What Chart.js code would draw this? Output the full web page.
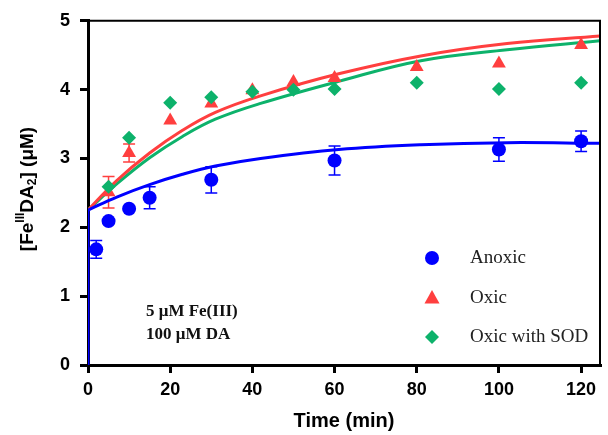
<!DOCTYPE html>
<html>
<head>
<meta charset="utf-8">
<script src="https://cdn.jsdelivr.net/npm/chart.js@4"></script>
<style>
  body { margin: 0; background: #fff; }
  canvas { display: block; }
</style>
</head>
<body>
<canvas id="chart" width="608" height="435"></canvas>
<script>
// measured points
var timeAnoxic = [2, 5, 10, 15, 30, 60, 100, 120];
var anoxic = [1.68, 2.09, 2.27, 2.43, 2.69, 2.97, 3.13, 3.25];
var anoxicErr = [0.13, 0, 0, 0.16, 0.19, 0.21, 0.17, 0.15];

var timeOxic = [5, 10, 20, 30, 40, 50, 60, 80, 100, 120];
var oxic = [2.51, 3.08, 3.55, 3.80, 3.99, 4.11, 4.17, 4.33, 4.38, 4.65];
var oxicErr = [0.23, 0.13, 0, 0, 0, 0, 0, 0, 0, 0];
var oxicSod = [2.59, 3.30, 3.81, 3.89, 3.97, 4.00, 4.01, 4.10, 4.01, 4.10];

// fitted curves
var jumpTime = [0, 0];
var jumpValue = [0, 2.25];
var fitTime = [0, 7, 15, 23, 31, 42, 61, 81, 102, 124.6];
var fitAnoxic = [2.25, 2.44, 2.62, 2.77, 2.89, 3.00, 3.13, 3.20, 3.23, 3.22];
var fitOxic = [2.25, 2.68, 3.08, 3.41, 3.67, 3.91, 4.23, 4.49, 4.67, 4.78];
var fitSod = [2.25, 2.63, 3.01, 3.32, 3.57, 3.80, 4.12, 4.42, 4.58, 4.71];

var xTicks = [0, 20, 40, 60, 80, 100, 120];
var yTicks = [0, 1, 2, 3, 4, 5];

var labels = ['Anoxic', 'Oxic', 'Oxic with SOD'];
var BLUE = '#0000ff';
var RED = '#ff3f3f';
var GREEN = '#0db26b';

function pts(xs, ys) {
    return xs.map(function (x, i) { return { x: x, y: ys[i] }; });
}

function drawMarker(ctx, shape, x, y, color) {
    ctx.save();
    ctx.fillStyle = color;
    ctx.beginPath();
    if (shape === 'circle') {
        ctx.arc(x, y, 7, 0, Math.PI * 2);
    } else if (shape === 'triangle') {
        ctx.moveTo(x, y - 8);
        ctx.lineTo(x + 7.5, y + 5.5);
        ctx.lineTo(x - 7.5, y + 5.5);
        ctx.closePath();
    } else {
        ctx.moveTo(x, y - 7);
        ctx.lineTo(x + 7, y);
        ctx.lineTo(x, y + 7);
        ctx.lineTo(x - 7, y);
        ctx.closePath();
    }
    ctx.fill();
    ctx.restore();
}

var extras = {
    id: 'extras',
    beforeDatasetsDraw: function (chart) {
        var ctx = chart.ctx, xs = chart.scales.x, ys = chart.scales.y;
        function bars(times, vals, errs, color) {
            ctx.save();
            ctx.strokeStyle = color;
            ctx.lineWidth = 1.5;
            times.forEach(function (t, i) {
                if (!errs[i]) return;
                var px = xs.getPixelForValue(t);
                var top = ys.getPixelForValue(vals[i] + errs[i]);
                var bot = ys.getPixelForValue(vals[i] - errs[i]);
                ctx.beginPath();
                ctx.moveTo(px, top); ctx.lineTo(px, bot);
                ctx.moveTo(px - 6, top); ctx.lineTo(px + 6, top);
                ctx.moveTo(px - 6, bot); ctx.lineTo(px + 6, bot);
                ctx.stroke();
            });
            ctx.restore();
        }
        bars(timeOxic, oxic, oxicErr, RED);
        bars(timeAnoxic, anoxic, anoxicErr, BLUE);
    },
    afterDraw: function (chart) {
        var ctx = chart.ctx, a = chart.chartArea;
        // frame top / right
        ctx.save();
        ctx.strokeStyle = '#000';
        ctx.lineWidth = 2;
        ctx.beginPath();
        ctx.moveTo(a.left, a.top);
        ctx.lineTo(a.right, a.top);
        ctx.lineTo(a.right, a.bottom);
        ctx.stroke();
        ctx.restore();

        // legend
        var shapes = ['circle', 'triangle', 'diamond'];
        var colors = [BLUE, RED, GREEN];
        var ly = [258, 298, 337];
        ctx.save();
        ctx.font = '19px "Liberation Serif"';
        ctx.fillStyle = '#222';
        ctx.textBaseline = 'middle';
        labels.forEach(function (l, i) {
            drawMarker(ctx, shapes[i], 432, ly[i], colors[i]);
            ctx.fillText(l, 470, ly[i]);
        });
        ctx.restore();

        // condition note
        ctx.save();
        ctx.font = 'bold 17px "Liberation Serif"';
        ctx.fillStyle = '#111';
        ctx.textBaseline = 'middle';
        ctx.fillText('5 \u03bcM Fe(III)', 146, 312);
        ctx.fillText('100 \u03bcM DA', 146, 335);
        ctx.restore();

        // y title with super/subscript
        ctx.save();
        ctx.translate(28, 189);
        ctx.rotate(-Math.PI / 2);
        ctx.fillStyle = '#000';
        ctx.textBaseline = 'middle';
        var big = 'bold 19px "Liberation Sans"', small = 'bold 12px "Liberation Sans"';
        var parts = [
            ['[Fe', big, 0], ['III', small, -7], ['DA', big, 0], ['2', small, 5], ['] (\u03bcM)', big, 0]
        ];
        var total = 0;
        parts.forEach(function (p) { ctx.font = p[1]; total += ctx.measureText(p[0]).width; });
        var cx = -total / 2;
        parts.forEach(function (p) {
            ctx.font = p[1];
            ctx.fillText(p[0], cx, p[2]);
            cx += ctx.measureText(p[0]).width;
        });
        ctx.restore();
    }
};

var ctx = document.getElementById('chart').getContext('2d');
var myChart = new Chart(ctx, {
    type: 'scatter',
    data: {
        datasets: [
            { label: labels[0], data: pts(timeAnoxic, anoxic), backgroundColor: BLUE, borderColor: BLUE,
              pointStyle: 'circle', pointRadius: 7, borderWidth: 0, order: 1 },
            { label: labels[1], data: pts(timeOxic, oxic), backgroundColor: RED, borderColor: RED,
              pointStyle: 'triangle', pointRadius: 8, borderWidth: 0, order: 3 },
            { label: labels[2], data: pts(timeOxic, oxicSod), backgroundColor: GREEN, borderColor: GREEN,
              pointStyle: 'rectRot', pointRadius: 7, borderWidth: 0, order: 2 },
            { type: 'line', data: pts(fitTime, fitSod), borderColor: GREEN, borderWidth: 3, pointRadius: 0,
              tension: 0.4, fill: false, order: 7 },
            { type: 'line', data: pts(fitTime, fitOxic), borderColor: RED, borderWidth: 3, pointRadius: 0,
              tension: 0.4, fill: false, order: 6 },
            { type: 'line', data: pts(fitTime, fitAnoxic), borderColor: BLUE, borderWidth: 3, pointRadius: 0,
              tension: 0.4, fill: false, order: 5 },
            { type: 'line', data: pts(jumpTime, jumpValue), borderColor: BLUE, borderWidth: 3, pointRadius: 0,
              tension: 0, fill: false, order: 4 }
        ]
    },
    options: {
        responsive: false,
        animation: false,
        devicePixelRatio: 1,
        layout: { padding: { top: 20, right: 4, left: 0, bottom: 0 } },
        plugins: { legend: { display: false }, tooltip: { enabled: false } },
        scales: {
            x: {
                type: 'linear', min: 0, max: 124.6,
                afterBuildTicks: function (s) { s.ticks = xTicks.map(function (v) { return { value: v }; }); },
                afterFit: function (s) { s.height = 70; },
                grid: { display: true, drawOnChartArea: false, drawTicks: true, tickLength: 8, color: '#000', lineWidth: 3 },
                border: { display: true, color: '#000', width: 3 },
                ticks: { color: '#000', padding: 6, maxRotation: 0, font: { family: 'Liberation Sans', size: 18, weight: 'bold' } },
                title: { display: true, text: 'Time (min)', color: '#000', padding: { top: 0, bottom: 2 },
                         font: { family: 'Liberation Sans', size: 20, weight: 'bold' } }
            },
            y: {
                type: 'linear', min: 0, max: 5,
                afterBuildTicks: function (s) { s.ticks = yTicks.map(function (v) { return { value: v }; }); },
                afterFit: function (s) { s.width = 88; },
                grid: { display: true, drawOnChartArea: false, drawTicks: true, tickLength: 8, color: '#000', lineWidth: 3 },
                border: { display: true, color: '#000', width: 3 },
                ticks: { color: '#000', padding: 10, font: { family: 'Liberation Sans', size: 18, weight: 'bold' } }
            }
        }
    },
    plugins: [extras]
});
</script>
</body>
</html>
